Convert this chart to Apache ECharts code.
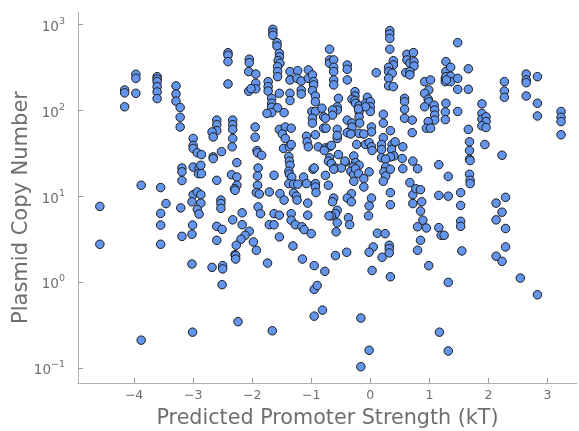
<!DOCTYPE html>
<html>
<head>
<meta charset="utf-8">
<script src="https://cdn.jsdelivr.net/npm/echarts@6/dist/echarts.min.js"></script>
<style>html,body{margin:0;padding:0;background:#fff}#c{width:579px;height:431px}</style>
</head>
<body>
<div id="c"></div>
<script>
const xTicks = [-4, -3, -2, -1, 0, 1, 2, 3];
const yTicks = [0.1, 1, 10, 100, 1000];
const xTitle = 'Predicted Promoter Strength (kT)';
const yTitle = 'Plasmid Copy Number';

// [promoter strength (kT), plasmid copy number]
const leftSamples = [
[-4.58,7.6],[-4.58,2.75],
[-4.16,173],[-4.16,160],[-4.16,110],
[-3.97,263],[-3.97,236],[-3.97,158],
[-3.61,247],[-3.61,232],[-3.61,216],[-3.61,189],[-3.61,164],[-3.61,137],
[-3.29,193],[-3.29,155],[-3.29,128],
[-3.22,108],[-3.22,83],[-3.22,64],
[-3.0,47],[-3.0,39],[-3.0,36],[-2.93,32],[-2.86,30.5],
[-3.19,21.3],[-3.19,19.2],[-3.19,15.2],
[-3.0,21.8],[-2.9,21.3],[-2.87,22.9],[-2.91,18.3],[-2.86,18.3],
[-3.88,13.4],[-3.55,12.6],
[-3.0,10.4],[-2.93,11.2],[-2.87,10.4],
[-3.02,8.6],[-2.87,8.3],[-3.46,8.2],[-3.21,7.3],[-2.93,7.0],[-2.9,6.2],[-3.55,6.3],
[-3.55,4.6],[-3.01,4.6],[-3.19,3.4],[-3.02,3.6],[-3.55,2.75],
[-3.02,1.62],[-3.01,0.26],[-3.88,0.21]
];
const midLeftSamples = [
[-1.65,880],[-1.65,810],[-1.65,750],[-1.58,615],[-1.58,560],
[-1.54,463],[-1.54,420],[-1.56,380],[-1.53,354],[-1.57,323],[-1.57,283],[-1.57,247],
[-2.41,470],[-2.41,440],[-2.41,370],[-2.41,203],
[-2.05,395],[-2.05,359],[-2.06,283],[-1.94,265],[-1.94,207],[-1.94,178],[-2.06,167],[-2.02,179],
[-1.73,216],[-1.73,189],[-1.73,168],[-1.54,158],
[-1.67,138],[-1.67,121],[-1.67,109],[-1.57,107],[-1.67,94],[-1.75,92],[-1.46,94],
[-1.36,283],[-1.23,290],[-1.36,226],[-1.24,236],[-1.17,220],
[-1.05,296],[-1.05,236],[-0.98,259],[-0.96,216],[-0.96,198],
[-1.36,158],[-1.36,130],[-1.17,173],[-1.17,155],
[-0.98,170],[-0.93,147],[-0.93,126],
[-0.99,97],[-0.93,97],[-0.98,81],[-0.98,71],
[-0.82,106],[-0.79,84],[-0.79,62],
[-2.6,77],[-2.6,68],[-2.6,58],[-2.68,56],
[-2.33,77],[-2.33,68],[-2.33,60],
[-1.95,64],[-1.54,60],[-1.44,64],[-1.34,62],
[-2.66,49],[-2.33,47],[-2.34,37.6],[-1.95,48.6],
[-2.66,28.7],[-2.66,27.4],[-2.52,33],[-2.26,24.6],
[-2.35,17.8],[-2.26,16.7],[-2.6,15.3],[-2.26,13.4],[-2.3,12.2],[-2.29,11.7],
[-2.53,9.0],[-2.53,8.2],[-2.53,7.2],[-2.17,6.4],[-2.33,5.3],[-2.6,4.45],[-2.51,4.1],[-2.6,3.06],
[-2.17,4.65],[-2.05,3.9],[-2.12,3.5],[-2.19,3.15],[-1.98,2.93],[-1.93,2.34],[-2.27,2.68],[-2.29,2.08],
[-1.92,34],[-1.91,32],[-1.84,30],[-1.9,21.3],[-1.91,17.2],[-1.91,13.4],[-1.93,11],[-1.88,10.6],
[-1.71,11.2],[-1.63,17.5],[-1.53,10.7],[-1.46,9.0],
[-1.9,7.5],[-1.86,6.25],[-1.63,6.25],[-1.54,6.0],[-1.71,4.65],[-1.63,4.65],[-1.54,3.35],
[-1.47,36],[-1.37,37.6],[-1.38,29],[-1.37,25.6],[-1.36,22.9],[-1.38,19.5],[-1.37,18],[-1.33,16.7],
[-1.38,14],[-1.3,13.8],[-1.23,13.8],[-1.3,10.9],[-1.25,10],[-1.24,9.0],[-1.34,6.25],[-1.34,5.25],[-1.27,4.65],
[-1.08,50],[-1.07,43],[-1.05,37.6],[-0.88,37.6],[-0.93,52],
[-1.13,16.7],[-1.08,14],[-0.93,14],[-0.93,12.8],[-0.92,11],[-0.97,20.6],[-0.95,21.3],[-0.76,17.5],
[-1.06,8.3],[-1.06,6.0],[-1.16,4.4],[-1.12,4.07],[-1.0,3.66],[-1.31,2.63],
[-1.49,53],[-1.44,47],[-1.34,40],
[-2.68,1.48],[-2.5,1.55],[-2.5,1.42],[-2.28,2.03],[-2.28,1.85],[-2.51,0.93],
[-1.74,1.66],[-1.15,1.85],[-0.95,1.55],[-0.95,0.82],[-0.9,0.91],[-0.95,0.40],[-2.24,0.345],[-1.66,0.27]
];
const midRightSamples = [
[0.33,850],[0.33,775],[0.33,690],[0.33,516],
[-0.69,516],[-0.69,387],[-0.69,354],[-0.62,387],[-0.62,318],[-0.62,283],[-0.62,226],[-0.62,198],
[-0.39,338],[-0.39,301],[-0.39,226],
[0.10,275],
[0.39,379],[0.39,338],[0.31,318],[0.31,283],[0.37,271],[0.31,236],[0.31,193],[0.39,189],
[0.62,450],[0.73,471],[0.62,387],[0.67,354],[0.74,370],[0.74,329],[0.6,275],[0.67,283],[0.67,259],
[0.92,216],[1.02,226],[0.99,173],[0.92,158],[0.98,135],[0.99,126],[0.92,110],
[1.08,115],[1.09,101],[1.09,88],[1.09,77],
[0.98,74],[0.95,62],[1.02,62],
[-0.26,165],[-0.26,147],[-0.31,135],[-0.26,130],[-0.25,121],[-0.19,113],[-0.19,97],[-0.19,84],
[-0.05,142],[-0.08,121],[0.0,126],[0.0,110],[0.0,97],[-0.08,110],[-0.2,104],
[-0.54,138],[-0.56,110],[-0.56,101],[-0.64,101],[-0.64,88],[-0.76,81],
[-0.39,77],[-0.31,71],[-0.31,64],[-0.39,55],
[-0.18,71],[-0.19,54],[0.02,64],[0.02,56],
[0.22,90],[0.22,71],[0.34,58],
[0.58,138],[0.58,126],[0.58,103],[0.58,81],[0.71,77],[0.71,55],
[-0.75,62],[-0.56,60],[-0.33,53],[-0.11,53],
[-0.76,36.5],[-0.69,37.6],[-0.66,39],[-0.78,34],[-0.69,28],[-0.71,25.6],[-0.66,24],[-0.59,21.3],
[-0.56,47],[-0.56,51],[-0.54,30.5],[-0.42,25],[-0.49,21.3],[-0.62,20.6],
[-0.23,40],[-0.08,40],[-0.02,42],[0.02,37.6],[0.03,34],
[0.22,48],[0.19,40],[0.19,35],[0.37,40],[0.42,43],[0.55,37.6],[0.36,35],[0.4,29.4],[0.34,28.7],[0.19,28],[0.26,27],[0.54,27.4],
[-0.28,29.4],[-0.43,25.6],[-0.25,24.6],[-0.19,22.9],[-0.29,21.9],[-0.33,19.5],[-0.28,17.8],[-0.25,20.9],[-0.2,18.3],[-0.02,19.2],[-0.11,16],[-0.28,14.9],
[0.26,21.9],[0.23,19.2],[0.26,17.2],[0.22,14.9],[0.34,20.6],[0.55,20.9],[0.72,25.6],[0.8,20.9],[1.16,23.3],
[-0.71,13.4],[0.67,14.4],[-0.11,12.8],[0.34,11],[0.34,7.95],
[-0.32,10.7],[-0.39,9.5],[-0.32,8.6],[0.02,9.5],[-0.02,7.7],[-0.03,5.9],
[-0.62,9.5],[-0.64,8.6],[-0.56,6.85],[-0.59,6.25],[-0.66,5.9],[-0.7,5.9],[-0.56,4.9],[-0.58,3.84],[-0.37,5.6],[-0.35,4.65],
[0.72,10.4],[0.77,12.2],[0.85,11.9],[0.72,8.2],[0.87,8.6],[0.85,6.7],[0.89,5.25],[0.8,4.4],[0.95,4.26],
[1.16,10.2],[1.16,4.3],[1.2,3.5],[0.12,3.7],[0.25,3.66],[0.85,3.06],[0.32,2.68],[0.32,2.45],[0.05,2.56],[0.8,2.34],
[-0.59,2.03],[-0.4,2.22],[-0.02,2.22],[0.2,1.94],[0.32,2.18],
[-0.77,1.33],[0.03,1.36],[0.34,1.15],[0.99,1.55],
[-0.81,0.47],[-0.16,0.38],[1.17,0.26],[-0.02,0.16],[-0.16,0.103]
];
const rightSamples = [
[1.28,370],[1.28,283],[1.27,236],[1.27,216],[1.27,96],[1.27,78],
[1.48,615],[1.36,318],[1.28,247],[1.36,250],[1.36,216],[1.48,236],[1.29,226],
[1.66,305],[1.48,176],[1.66,176],[1.28,121],[1.48,97],[1.66,60],
[1.89,119],[1.89,92],[1.89,79],[1.96,84],[1.96,74],[1.89,66],[1.96,63],
[2.27,216],[2.27,168],[2.27,142],
[2.64,265],[2.64,226],[2.64,210],[2.64,147],
[2.83,247],[2.83,121],[2.83,86],
[3.23,97],[3.23,83],[3.23,74],[3.23,52],
[1.68,43],[1.68,34],[1.68,27],[1.69,26],[1.68,18],[1.69,15.3],[1.69,14],
[1.94,40],[2.23,30],[1.32,17],[1.32,10],
[1.53,11],[1.53,7.8],[1.53,5.1],[1.53,4.45],[1.25,3.5],[1.55,2.3],
[2.13,8.3],[2.29,9.7],[2.23,6.5],[2.13,5.3],[2.29,4.2],[2.29,2.56],[2.13,2.0],
[2.23,1.74],[2.54,1.11],[2.83,0.71],[1.32,0.99],[1.32,0.157]
];

const samples = leftSamples.concat(midLeftSamples, midRightSamples, rightSamples);

const gray = '#6e6e6e';
const font = 'DejaVu Sans';
const chart = echarts.init(document.getElementById('c'), null, {renderer: 'canvas'});
chart.setOption({
  backgroundColor: '#ffffff',
  animation: false,
  grid: {left: 78, right: 2, top: 12, bottom: 48, containLabel: false, outerBoundsMode: 'none'},
  xAxis: {
    type: 'value',
    min: -4.95, max: 3.5,
    name: xTitle,
    nameLocation: 'middle',
    nameGap: 25,
    nameMoveOverlap: false,
    nameTextStyle: {color: gray, fontSize: 20.7, fontFamily: font},
    splitLine: {show: false},
    axisLine: {show: true, onZero: false, lineStyle: {color: '#b0b0b0', width: 1}},
    axisTick: {show: true, inside: true, length: 5, lineStyle: {color: '#999'}, customValues: xTicks},
    axisLabel: {
      color: gray, fontSize: 12.5, fontFamily: font, margin: 6,
      customValues: xTicks,
      formatter: v => (v < 0 ? '\u2212' + Math.abs(v) : String(v))
    }
  },
  yAxis: {
    type: 'log',
    logBase: 10,
    min: 0.0665, max: 1400,
    name: yTitle,
    nameLocation: 'middle',
    nameGap: 46,
    nameMoveOverlap: false,
    nameTextStyle: {color: gray, fontSize: 21, fontFamily: font, padding: [0, 20, 0, 0]},
    splitLine: {show: false},
    axisLine: {show: true, onZero: false, lineStyle: {color: '#b0b0b0', width: 1}},
    axisTick: {show: true, inside: true, length: 5, lineStyle: {color: '#999'}, customValues: yTicks},
    axisLabel: {
      color: gray, fontFamily: font, margin: 13,
      customValues: yTicks,
      formatter: v => {
        const e = Math.round(Math.log10(v));
        return '{b|10}{e|' + (e < 0 ? '\u2212' + Math.abs(e) : e) + '}';
      },
      rich: {
        b: {fontSize: 13.5, color: gray, fontFamily: font, padding: [6, 0, 0, 0]},
        e: {fontSize: 9.5, color: gray, fontFamily: font, padding: [0, 0, 6, 0]}
      }
    }
  },
  series: [{
    type: 'scatter',
    data: samples,
    symbol: 'circle',
    symbolSize: 8.5,
    itemStyle: {color: '#6495ED', borderColor: '#1a1a1a', borderWidth: 1, opacity: 1}
  }]
});
</script>
</body>
</html>
